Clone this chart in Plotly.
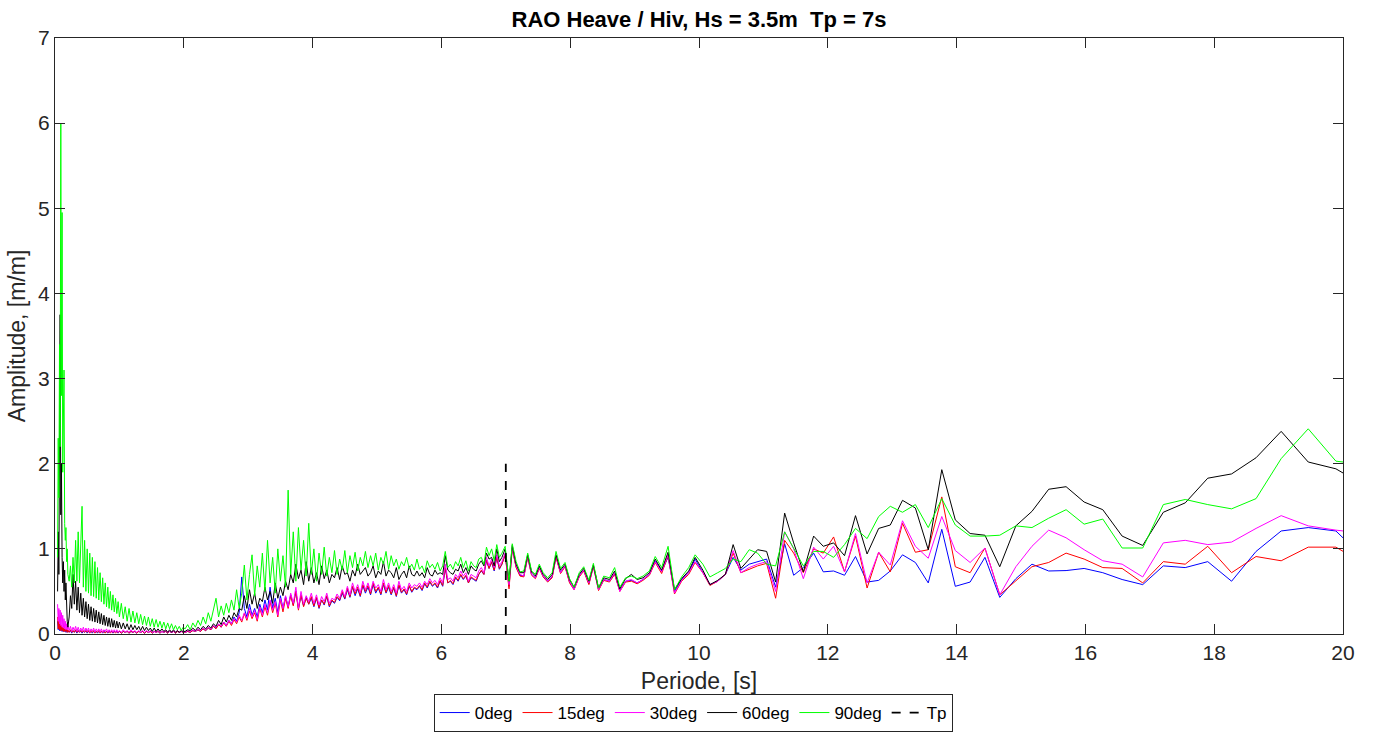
import plotly.graph_objects as go

# ---------------- periods (s) ----------------
period_a = [0.04,0.05,0.06,0.07,0.08,0.09,0.10,0.11,0.12,0.13,0.14,0.15,0.16,0.17,0.18,0.19,0.20,
            0.22,0.24,0.26,0.28,0.30,0.32,0.34,0.36,0.38,0.40,0.42,0.44,0.46,0.48,0.50,0.52,0.54,0.56,0.58,0.60,
            0.62,0.64,0.66,0.68,0.70,0.72,0.74,0.76,0.78,0.80,0.82,0.84,0.86,0.88,0.90,0.92,0.94,0.96,0.98,1.00,
            1.03,1.06,1.09,1.12,1.15,1.18,1.21,1.24,1.27,1.30,1.33,1.36,1.39,1.42,1.45,1.48,1.51,1.54,1.57,1.60,
            1.63,1.66,1.69,1.72,1.75,1.78,1.81,1.84,1.87,1.90,1.93,1.96,1.99]
period_b = [2.02,2.06,2.10,2.14,2.18,2.22,2.26,2.30,2.34,2.38,
            2.42,2.46,2.50,2.54,2.58,2.62,2.66,2.70,2.74,2.78,
            2.82,2.86,2.90,2.94,2.98,3.02,3.06,3.10,3.14,3.18,
            3.22,3.26,3.30,3.34,3.38,3.42,3.46,3.50,3.54,3.58,
            3.62,3.66,3.70,3.74,3.78,3.82,3.86,3.90,3.94,3.98,
            4.02,4.06,4.10,4.14,4.18,4.22,4.26,4.30,4.34,4.38,
            4.42,4.46,4.50,4.54,4.58,4.62,4.66,4.70,4.74,4.78,
            4.82,4.86,4.90,4.94,4.98,5.02,5.06,5.10,5.14,5.18,
            5.22,5.26,5.30,5.34,5.38,5.42,5.46,5.50,5.54,5.58,
            5.62,5.66,5.70,5.74,5.78,5.82,5.86,5.90,5.94,5.98,
            6.02,6.06,6.10,6.14,6.18,6.22,6.26,6.30,6.34,6.38,
            6.42,6.46,6.50,6.54,6.58,6.62,6.66,6.70,6.74,6.78,
            6.82,6.86,6.90,6.94]
period_c = [6.99,7.05,7.10,7.16,7.22,7.28,7.34,7.40,7.46,7.52,7.58,7.65,7.72,7.78,7.85,7.92,7.99,8.06,8.14,8.21,
            8.29,8.36,8.44,8.52,8.61,8.69,8.77,8.86,8.95,9.04,9.13,9.23,9.32,9.42,9.52,9.62,9.73,9.84,9.94,
            10.06,10.17,10.29,10.41,10.53,10.65,10.78,10.91,11.05,11.19,11.33,11.47,11.62,11.78,11.93,12.09,12.26,12.43,
            12.61,12.79,12.97,13.16,13.36,13.56,13.77,13.98,14.21,14.44,14.67,14.92,
            15.17,15.43,15.70,15.98,16.27,16.57,16.89,17.21,17.55,17.90,18.27,18.65,19.04,19.46,19.89,20.34]

# ---------------- 0deg (blue) ----------------
deg0_a = [0.15,0.05,0.12,0.04,0.10,0.04,0.08,0.03,0.07,0.03,0.06,0.03,0.05,0.02,0.05,0.02,0.04,
          0.02,0.04,0.01,0.04,0.02,0.04,0.01,0.04,0.02,0.04,0.01,0.03,0.02,0.04,0.01,0.03,0.02,0.03,0.01,0.03,
          0.02,0.03,0.01,0.03,0.02,0.03,0.01,0.03,0.02,0.03,0.01,0.03,0.02,0.03,0.01,0.03,0.02,0.03,0.01,0.03,
          0.01,0.03,0.02,0.03,0.01,0.03,0.02,0.03,0.01,0.03,0.02,0.03,0.01,0.03,0.02,0.03,
          0.01,0.03,0.02,0.03,0.01,0.03,0.02,0.03,0.01,0.03,0.02,0.03,0.01,0.03,0.02,0.03,0.02]
deg0_b = [0.02,0.03,0.02,0.04,0.03,0.05,0.03,0.06,0.04,0.07,
          0.05,0.09,0.07,0.11,0.08,0.14,0.10,0.16,0.12,0.20,
          0.15,0.25,0.67,0.30,0.20,0.35,0.22,0.30,0.20,0.35,
          0.25,0.40,0.28,0.55,0.30,0.42,0.25,0.45,0.30,0.44,
          0.32,0.46,0.34,0.50,0.30,0.45,0.33,0.43,0.35,0.42,
          0.32,0.42,0.30,0.40,0.34,0.44,0.32,0.39,0.36,0.43,
          0.39,0.48,0.41,0.52,0.43,0.55,0.45,0.53,0.44,0.57,
          0.48,0.55,0.46,0.58,0.48,0.54,0.46,0.58,0.48,0.55,
          0.46,0.54,0.44,0.57,0.48,0.52,0.46,0.56,0.49,0.54,
          0.52,0.56,0.51,0.59,0.54,0.61,0.56,0.59,0.54,0.62,
          0.56,0.77,0.60,0.62,0.58,0.66,0.62,0.69,0.64,0.68,
          0.60,0.66,0.64,0.62,0.70,0.74,0.70,0.86,0.77,0.84,
          0.74,0.90,0.76,0.82]
deg0_c = [0.94,0.56,1.01,0.79,0.69,0.68,0.91,0.70,0.66,0.78,0.68,0.62,0.67,0.91,0.72,0.80,0.61,0.53,0.68,0.75,
          0.59,0.80,0.52,0.64,0.62,0.71,0.51,0.62,0.63,0.60,0.64,0.70,0.86,0.74,0.90,0.50,0.64,0.72,0.88,
          0.72,0.58,0.62,0.70,0.90,0.75,0.82,0.85,0.88,0.55,1.06,0.69,0.78,0.95,0.73,0.74,0.69,0.91,
          0.61,0.63,0.74,0.93,0.84,0.60,1.23,0.56,0.61,0.90,0.43,0.65,
          0.82,0.74,0.745,0.77,0.72,0.64,0.58,0.80,0.78,0.85,0.62,0.97,1.21,1.25,1.21,0.88]

# ---------------- 15deg (red) ----------------
deg15_a = [0.20,0.06,0.15,0.05,0.12,0.04,0.10,0.04,0.08,0.03,0.07,0.03,0.06,0.03,0.06,0.02,0.05,
           0.02,0.05,0.02,0.04,0.02,0.05,0.02,0.04,0.02,0.04,0.02,0.04,0.02,0.04,0.02,0.04,0.01,0.04,0.02,0.04,
           0.01,0.03,0.02,0.04,0.01,0.03,0.02,0.03,0.01,0.03,0.02,0.03,0.01,0.03,0.02,0.03,0.01,0.03,0.02,0.03,
           0.01,0.03,0.02,0.03,0.01,0.03,0.02,0.03,0.01,0.03,0.02,0.03,0.01,0.03,0.02,0.03,
           0.01,0.03,0.02,0.03,0.01,0.03,0.02,0.03,0.01,0.03,0.02,0.03,0.01,0.03,0.02,0.03,0.02]
deg15_b = [0.02,0.03,0.02,0.04,0.03,0.05,0.03,0.06,0.04,0.07,
           0.05,0.09,0.06,0.11,0.08,0.13,0.09,0.15,0.10,0.17,
           0.12,0.20,0.14,0.24,0.16,0.27,0.18,0.25,0.15,0.30,
           0.20,0.32,0.22,0.38,0.25,0.36,0.20,0.40,0.26,0.42,
           0.30,0.45,0.33,0.50,0.28,0.46,0.32,0.42,0.35,0.44,
           0.33,0.43,0.31,0.40,0.35,0.45,0.33,0.40,0.37,0.44,
           0.40,0.50,0.42,0.54,0.44,0.56,0.47,0.55,0.45,0.58,
           0.50,0.57,0.47,0.60,0.50,0.55,0.47,0.60,0.49,0.57,
           0.47,0.55,0.45,0.58,0.49,0.53,0.47,0.57,0.50,0.55,
           0.53,0.57,0.52,0.60,0.55,0.62,0.57,0.60,0.55,0.63,
           0.57,0.78,0.60,0.63,0.59,0.67,0.63,0.70,0.65,0.69,
           0.60,0.67,0.65,0.63,0.70,0.75,0.70,0.87,0.77,0.85,
           0.75,0.90,0.77,0.82]
deg15_c = [0.93,0.53,1.00,0.78,0.68,0.67,0.90,0.69,0.65,0.77,0.67,0.61,0.66,0.90,0.71,0.79,0.60,0.52,0.67,0.74,
           0.58,0.79,0.51,0.63,0.61,0.70,0.50,0.61,0.62,0.59,0.63,0.69,0.84,0.71,0.92,0.47,0.62,0.70,0.84,
           0.72,0.57,0.62,0.70,0.95,0.72,0.76,0.80,0.83,0.42,1.10,0.95,0.72,1.00,0.95,1.14,0.73,1.15,
           0.54,0.96,0.73,1.30,0.96,0.99,1.61,0.79,0.72,1.01,0.46,0.63,
           0.79,0.84,0.95,0.88,0.78,0.77,0.60,0.85,0.82,1.03,0.72,0.91,0.86,1.02,1.02,0.82]

# ---------------- 30deg (magenta) ----------------
deg30_a = [0.35,0.15,0.30,0.12,0.28,0.10,0.25,0.08,0.22,0.07,0.18,0.06,0.15,0.05,0.12,0.05,0.10,
           0.04,0.09,0.03,0.08,0.04,0.09,0.03,0.08,0.03,0.07,0.03,0.08,0.03,0.07,0.03,0.07,0.02,0.06,0.03,0.07,
           0.02,0.06,0.03,0.06,0.02,0.06,0.02,0.05,0.03,0.06,0.02,0.05,0.02,0.05,0.02,0.05,0.02,0.05,0.02,0.04,
           0.02,0.05,0.02,0.04,0.02,0.05,0.02,0.04,0.02,0.04,0.02,0.04,0.02,0.04,0.02,0.04,
           0.02,0.03,0.02,0.04,0.02,0.03,0.02,0.04,0.02,0.03,0.02,0.03,0.02,0.04,0.02,0.03,0.03]
deg30_b = [0.02,0.04,0.03,0.05,0.03,0.06,0.04,0.07,0.05,0.08,
           0.06,0.10,0.08,0.12,0.09,0.14,0.10,0.16,0.12,0.18,
           0.14,0.22,0.16,0.25,0.18,0.30,0.20,0.28,0.17,0.32,
           0.22,0.35,0.25,0.40,0.28,0.38,0.22,0.42,0.30,0.45,
           0.32,0.48,0.36,0.55,0.30,0.50,0.35,0.45,0.38,0.48,
           0.36,0.46,0.34,0.44,0.38,0.48,0.36,0.42,0.40,0.47,
           0.42,0.52,0.44,0.56,0.46,0.60,0.50,0.58,0.48,0.62,
           0.52,0.60,0.50,0.62,0.54,0.58,0.50,0.64,0.52,0.60,
           0.50,0.58,0.48,0.62,0.52,0.56,0.50,0.60,0.54,0.58,
           0.56,0.60,0.55,0.62,0.58,0.65,0.60,0.63,0.58,0.66,
           0.60,0.82,0.64,0.66,0.62,0.70,0.66,0.74,0.68,0.72,
           0.62,0.70,0.68,0.66,0.74,0.78,0.72,0.90,0.80,0.88,
           0.78,0.93,0.80,0.85]
deg30_c = [0.95,0.58,1.02,0.80,0.70,0.68,0.92,0.70,0.66,0.78,0.68,0.62,0.68,0.92,0.72,0.80,0.62,0.52,0.68,0.75,
           0.60,0.80,0.52,0.64,0.62,0.72,0.50,0.62,0.64,0.60,0.64,0.70,0.85,0.73,0.93,0.48,0.63,0.72,0.85,
           0.72,0.58,0.62,0.70,0.98,0.72,0.78,0.82,0.85,0.50,1.20,1.00,0.65,1.02,0.88,1.03,0.73,1.18,
           0.60,0.96,0.81,1.33,1.03,0.89,1.38,0.98,0.84,1.01,0.46,0.79,
           1.03,1.22,1.13,0.99,0.86,0.82,0.67,1.07,1.10,1.05,1.08,1.24,1.39,1.27,1.22,1.18]

# ---------------- 60deg (black) ----------------
deg60_a = [0.50,1.20,0.70,2.20,3.75,1.40,2.00,0.90,0.60,0.85,0.50,0.75,0.40,0.60,0.25,0.15,0.08,
           0.20,0.45,0.30,0.70,0.35,0.62,0.28,0.55,0.25,0.48,0.22,0.42,0.20,0.38,0.18,0.35,0.16,0.32,0.15,0.30,
           0.14,0.28,0.13,0.26,0.12,0.24,0.11,0.22,0.10,0.20,0.09,0.19,0.08,0.18,0.08,0.16,0.07,0.15,0.07,0.14,
           0.06,0.13,0.06,0.12,0.05,0.11,0.05,0.10,0.05,0.09,0.04,0.09,0.04,0.08,0.04,0.07,
           0.03,0.07,0.03,0.06,0.03,0.06,0.03,0.05,0.02,0.05,0.02,0.05,0.02,0.04,0.02,0.04,0.03]
deg60_b = [0.03,0.05,0.04,0.07,0.04,0.08,0.05,0.09,0.06,0.10,
           0.07,0.12,0.09,0.16,0.11,0.20,0.14,0.22,0.16,0.25,
           0.20,0.30,0.28,0.45,0.30,0.52,0.35,0.48,0.30,0.42,
           0.38,0.55,0.40,0.50,0.36,0.60,0.42,0.55,0.45,0.62,
           0.52,0.70,0.60,0.82,0.65,0.75,0.58,0.85,0.62,0.78,
           0.60,0.72,0.58,0.80,0.65,0.75,0.60,0.70,0.66,0.78,
           0.64,0.80,0.70,0.72,0.62,0.75,0.68,0.82,0.70,0.74,
           0.78,0.68,0.72,0.80,0.66,0.74,0.70,0.85,0.68,0.75,
           0.72,0.66,0.78,0.64,0.70,0.74,0.66,0.80,0.70,0.68,
           0.74,0.68,0.72,0.66,0.78,0.70,0.68,0.75,0.70,0.72,
           0.70,0.92,0.75,0.72,0.70,0.76,0.74,0.82,0.72,0.78,
           0.70,0.80,0.76,0.74,0.82,0.86,0.80,0.95,0.88,0.90,
           0.80,1.00,0.85,0.90]
deg60_c = [1.00,0.62,1.04,0.82,0.72,0.72,0.93,0.73,0.68,0.80,0.70,0.64,0.70,0.93,0.75,0.82,0.64,0.55,0.70,0.77,
           0.62,0.81,0.54,0.66,0.64,0.74,0.53,0.65,0.70,0.64,0.66,0.72,0.88,0.75,0.96,0.52,0.65,0.74,0.90,
           0.75,0.58,0.63,0.70,1.05,0.77,0.88,0.99,0.97,0.61,1.42,1.07,0.73,1.15,1.03,1.07,0.92,1.39,
           0.94,1.24,1.28,1.57,1.48,0.99,1.93,1.34,1.18,1.16,0.79,1.27,
           1.44,1.70,1.73,1.55,1.46,1.15,1.04,1.43,1.54,1.83,1.88,2.07,2.38,2.02,1.94,1.74]

# ---------------- 90deg (green) ----------------
deg90_a = [0.90,2.30,1.60,3.40,2.20,6.00,2.80,4.95,1.90,2.60,3.10,1.30,1.10,1.25,0.85,1.00,0.70,
           0.62,0.80,0.55,0.90,0.60,1.10,0.62,1.20,0.60,1.05,1.50,0.55,1.10,0.50,1.00,0.48,0.95,0.45,0.90,0.44,
           0.85,0.42,0.78,0.40,0.72,0.38,0.66,0.35,0.60,0.32,0.55,0.30,0.50,0.28,0.46,0.26,0.42,0.24,0.38,0.20,
           0.36,0.18,0.32,0.15,0.30,0.14,0.27,0.13,0.25,0.12,0.23,0.11,0.21,0.10,0.20,0.09,
           0.18,0.08,0.17,0.08,0.15,0.07,0.14,0.06,0.13,0.06,0.12,0.05,0.10,0.05,0.09,0.04,0.08]
deg90_b = [0.06,0.11,0.05,0.13,0.08,0.16,0.10,0.20,0.12,0.25,
           0.15,0.30,0.42,0.20,0.33,0.22,0.36,0.25,0.40,0.28,
           0.52,0.30,0.48,0.81,0.40,0.70,0.93,0.45,0.80,0.55,
           0.95,0.50,1.10,0.60,0.90,0.48,1.00,0.62,0.92,0.55,
           1.69,0.70,1.20,0.62,1.25,0.75,1.10,0.68,1.30,0.70,
           1.00,0.62,0.95,0.70,1.02,0.68,0.90,0.72,0.98,0.70,
           0.88,0.75,0.98,0.72,0.92,0.78,0.96,0.74,0.90,0.80,
           0.97,0.78,0.92,0.80,0.95,0.75,0.90,0.82,0.97,0.76,
           0.92,0.80,0.88,0.76,0.85,0.80,0.90,0.77,0.82,0.75,
           0.88,0.76,0.80,0.72,0.86,0.78,0.82,0.76,0.84,0.74,
           0.80,0.97,0.78,0.82,0.76,0.85,0.80,0.90,0.78,0.86,
           0.74,0.85,0.80,0.78,0.88,0.90,0.82,1.02,0.92,1.00,
           0.86,1.05,0.90,0.95]
deg90_c = [1.03,0.62,1.06,0.85,0.73,0.74,0.95,0.74,0.70,0.82,0.72,0.66,0.72,0.97,0.77,0.84,0.65,0.55,0.72,0.79,
           0.63,0.83,0.54,0.68,0.66,0.78,0.55,0.66,0.68,0.65,0.68,0.74,0.91,0.78,1.03,0.52,0.67,0.78,0.93,
           0.82,0.67,0.72,0.77,0.88,0.85,0.99,0.95,0.82,0.80,1.20,1.00,0.80,0.97,0.97,0.90,1.05,1.24,
           1.12,1.38,1.50,1.43,1.52,1.25,1.59,1.28,1.15,1.15,1.16,1.27,
           1.25,1.36,1.46,1.29,1.35,1.01,1.01,1.52,1.58,1.52,1.47,1.59,2.06,2.41,2.03,1.99]

# Tp marker
tp_x = [7, 7]
tp_y = [0, 2]

series = [
    ("0deg", "#0000ff", deg0_a, deg0_b, deg0_c),
    ("15deg", "#ff0000", deg15_a, deg15_b, deg15_c),
    ("30deg", "#ff00ff", deg30_a, deg30_b, deg30_c),
    ("60deg", "#000000", deg60_a, deg60_b, deg60_c),
    ("90deg", "#00ff00", deg90_a, deg90_b, deg90_c),
]

for name, _, ya, yb, yc in series:
    assert len(ya) == len(period_a), (name, "a", len(ya), len(period_a))
    assert len(yb) == len(period_b), (name, "b", len(yb), len(period_b))
    assert len(yc) == len(period_c), (name, "c", len(yc), len(period_c))

period_all = period_a + period_b + period_c

fig = go.Figure()
for name, color, ya, yb, yc in series:
    fig.add_trace(go.Scatter(x=period_all, y=ya + yb + yc, mode="lines", name=name,
                             line=dict(color=color, width=1)))
fig.add_trace(go.Scatter(x=tp_x, y=tp_y, mode="lines", name="Tp",
                         line=dict(color="black", width=1.8, dash="dash")))

axis_color = "#262626"
fig.update_layout(
    width=1375, height=733,
    margin=dict(l=55, r=32, t=38, b=99, autoexpand=False),
    paper_bgcolor="white", plot_bgcolor="white",
    font=dict(family="Liberation Sans, Arial, sans-serif", color=axis_color, size=18),
    title=dict(text="<b>RAO Heave / Hiv, Hs = 3.5m  Tp = 7s</b>", x=0.5, xref="paper",
               xanchor="center", y=1 - 19 / 733, yref="container", yanchor="middle",
               font=dict(size=22, color="black")),
    showlegend=True,
    legend=dict(orientation="h", x=0.4955, xanchor="center", xref="paper",
                y=1 / 733, yanchor="bottom", yref="container",
                bordercolor=axis_color, borderwidth=1, bgcolor="white",
                font=dict(size=17, color="black"), itemwidth=30, tracegroupgap=0),
)
fig.update_xaxes(range=[0, 20], dtick=2, tick0=0, ticks="inside", ticklen=10, tickcolor=axis_color,
                 showline=True, linecolor=axis_color, linewidth=1, mirror="allticks",
                 showgrid=False, zeroline=False, tickfont=dict(size=21), automargin=False,
                 title=dict(text="Periode, [s]", font=dict(size=23), standoff=12))
fig.update_yaxes(range=[0, 7], dtick=1, tick0=0, ticks="inside", ticklen=10, tickcolor=axis_color,
                 showline=True, linecolor=axis_color, linewidth=1, mirror="allticks",
                 showgrid=False, zeroline=False, tickfont=dict(size=21), automargin=False,
                 title=dict(text="Amplitude, [m/m]", font=dict(size=23), standoff=6))

fig.write_html("out.html")
